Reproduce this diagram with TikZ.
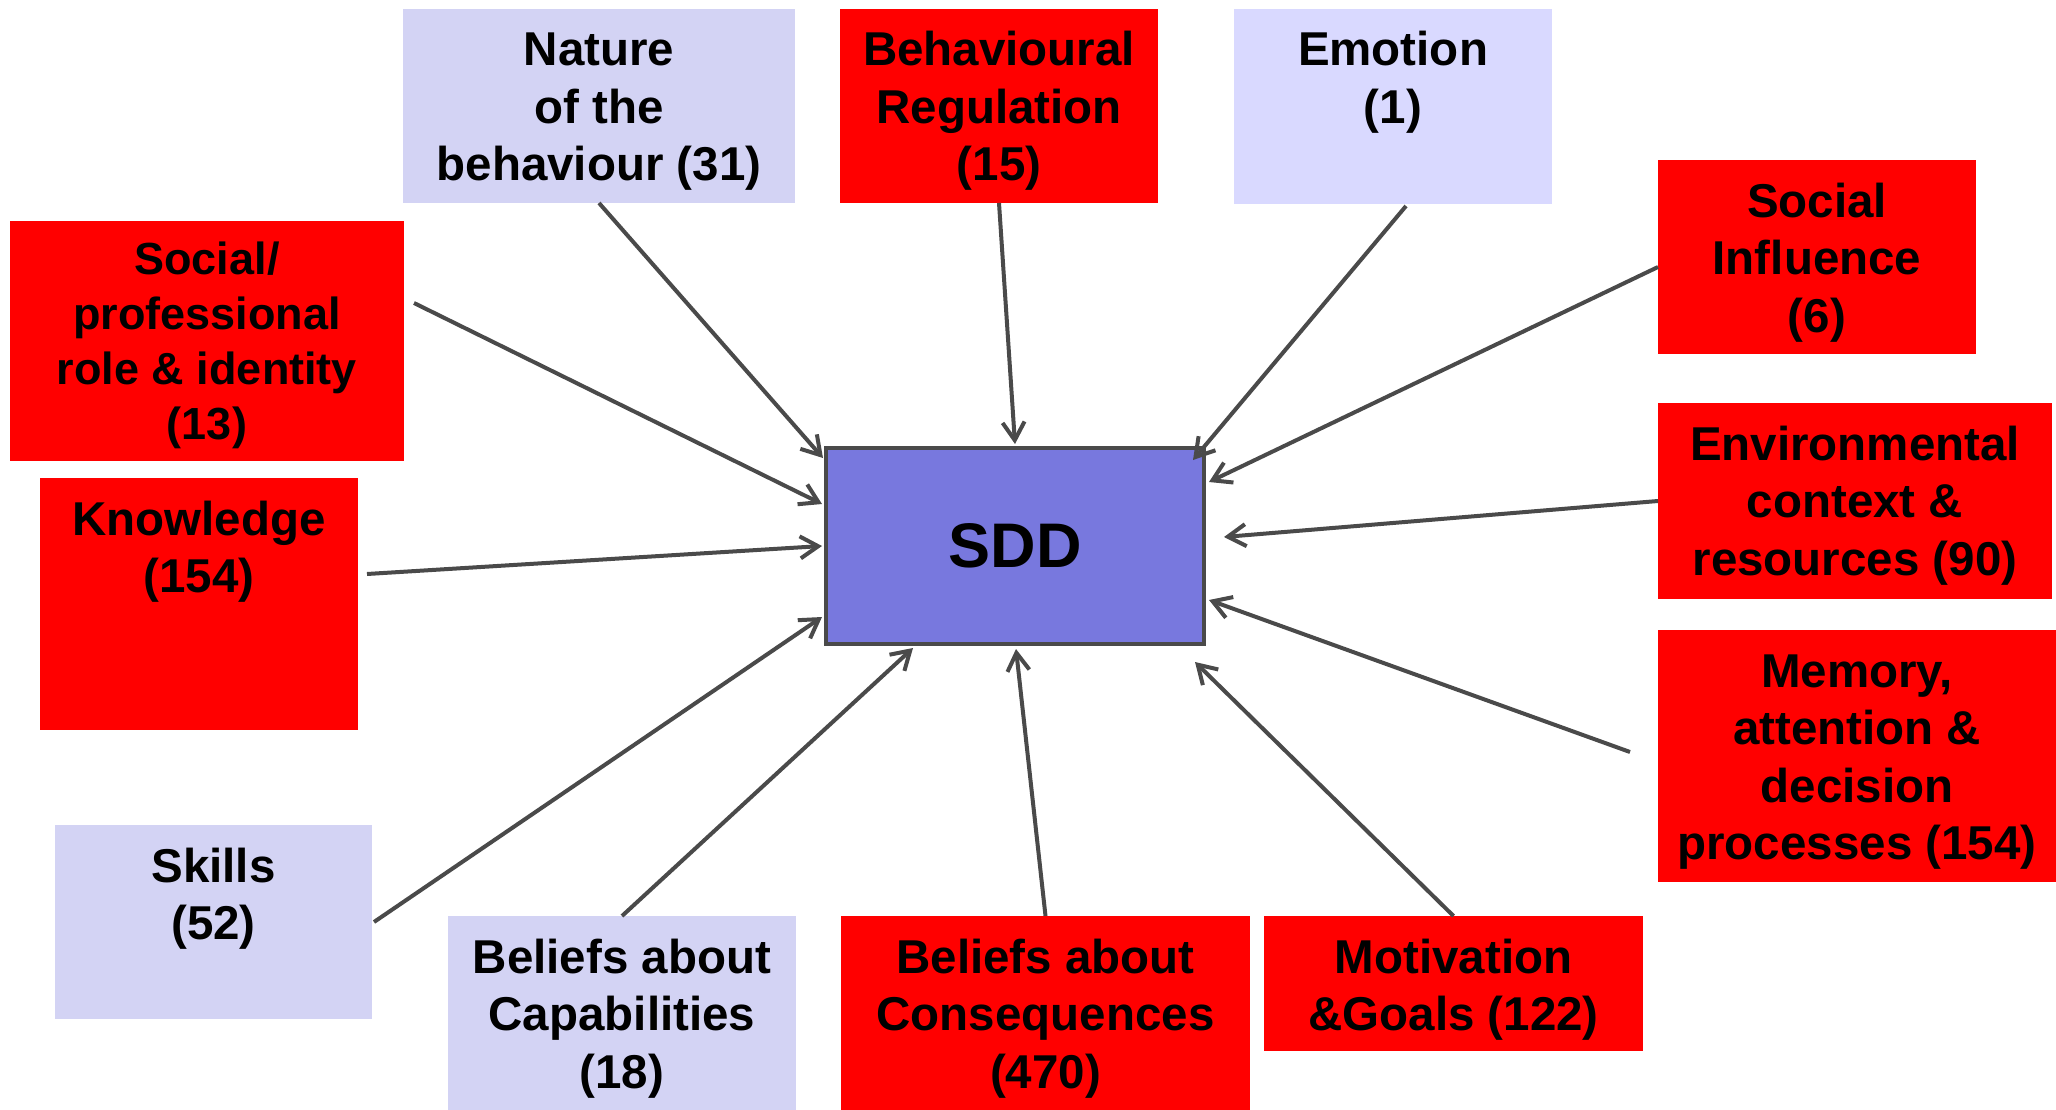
\documentclass[tikz,border=0pt]{standalone}
\usepackage{fontspec}
\setmainfont{Liberation Sans}
\usetikzlibrary{arrows.meta,calc}
\definecolor{boxred}{HTML}{FF0000}
\definecolor{lav}{HTML}{D3D3F4}
\definecolor{lavb}{HTML}{D9D9FF}
\definecolor{sddfill}{HTML}{7878DE}
\definecolor{edgegray}{HTML}{4A4A4A}
\newcommand{\bxt}[4][57pt]{\begin{minipage}[c][#3][t]{#2}\centering\rule{0pt}{#1}#4\end{minipage}}
\begin{document}
\begin{tikzpicture}[x=1pt,y=-1pt,
  factor/.style={inner sep=0pt, outer sep=0pt, font=\bfseries\fontsize{47.5}{57.5}\selectfont},
  redbox/.style={factor, fill=boxred},
  lavbox/.style={factor, fill=lav},
  conn/.style={draw=edgegray, line width=4pt, -{Straight Barb[length=18pt,width=22pt]}},
]
\fill[white] (0,0) rectangle (2056,1110);
\useasboundingbox (0,0) rectangle (2056,1110);

% factor boxes
\node[lavbox] (nature) at (599,106) {\bxt{392pt}{194pt}{Nature\\ of the\\ behaviour (31)}};
\node[redbox] (behreg) at (999,106) {\bxt{318pt}{194pt}{Behavioural\\ Regulation\\ (15)}};
\node[factor, fill=lavb] (emotion) at (1393,106.5) {\bxt{318pt}{195pt}{Emotion\\ (1)}};
\node[redbox] (social) at (1817,257) {\bxt{318pt}{194pt}{Social\\ Influence\\ (6)}};
\node[redbox, font=\bfseries\fontsize{45}{55}\selectfont] (socprof) at (207,341) {\bxt[53pt]{394pt}{240pt}{Social/\\ professional\\ role \& identity\\ (13)}};
\node[redbox] (env) at (1855,501) {\bxt{394pt}{196pt}{Environmental\\ context \&\\ resources (90)}};
\node[redbox] (know) at (199,604) {\bxt{318pt}{252pt}{Knowledge\\ (154)}};
\node[redbox] (memory) at (1857,756) {\bxt{398pt}{252pt}{Memory,\\ attention \&\\ decision\\ processes (154)}};
\node[lavbox] (skills) at (213.5,922) {\bxt{317pt}{194pt}{Skills\\ (52)}};
\node[lavbox] (belcap) at (622,1013) {\bxt{348pt}{194pt}{Beliefs about\\ Capabilities\\ (18)}};
\node[redbox] (belcons) at (1045.5,1013) {\bxt{409pt}{194pt}{Beliefs about\\ Consequences\\ (470)}};
\node[redbox] (motiv) at (1453.5,983.5) {\bxt{379pt}{135pt}{Motivation\\ \&Goals (122)}};

% central box
\node[draw=edgegray, line width=4pt, fill=sddfill, minimum width=378pt, minimum height=196pt,
      inner sep=0pt, font=\bfseries\fontsize{63}{75}\selectfont] (sdd) at (1015,546) {SDD};

% connectors
\draw[conn] (nature.south) -- ($(sdd.north west)+(-1,12)$);
\draw[conn] (behreg.south) -- ($(sdd.north)+(0,-2)$);
\draw[conn] ($(emotion.south)+(13,2)$) -- ($(sdd.north east)+(-13,14)$);
\draw[conn] ($(social.west)+(0,10)$) -- ($(sdd.north east)+(3,36)$);
\draw[conn] ($(socprof.east)+(10,-38)$) -- ($(sdd.north west)+(-2,58)$);
\draw[conn] (env.west) -- ($(sdd.east)+(18,-9)$);
\draw[conn] ($(know.east)+(9,-30)$) -- ($(sdd.west)+(-2,0)$);
\draw[conn] ($(memory.west)+(-28,-4)$) -- ($(sdd.east)+(3,54)$);
\draw[conn] ($(skills.east)+(2,0)$) -- ($(sdd.south west)+(-2,-29)$);
\draw[conn] (belcap.north) -- ($(sdd.south west)+(89,2)$);
\draw[conn] (belcons.north) -- ($(sdd.south)+(1,3)$);
\draw[conn] (motiv.north) -- ($(sdd.south east)+(-11,16)$);
\end{tikzpicture}
\end{document}
